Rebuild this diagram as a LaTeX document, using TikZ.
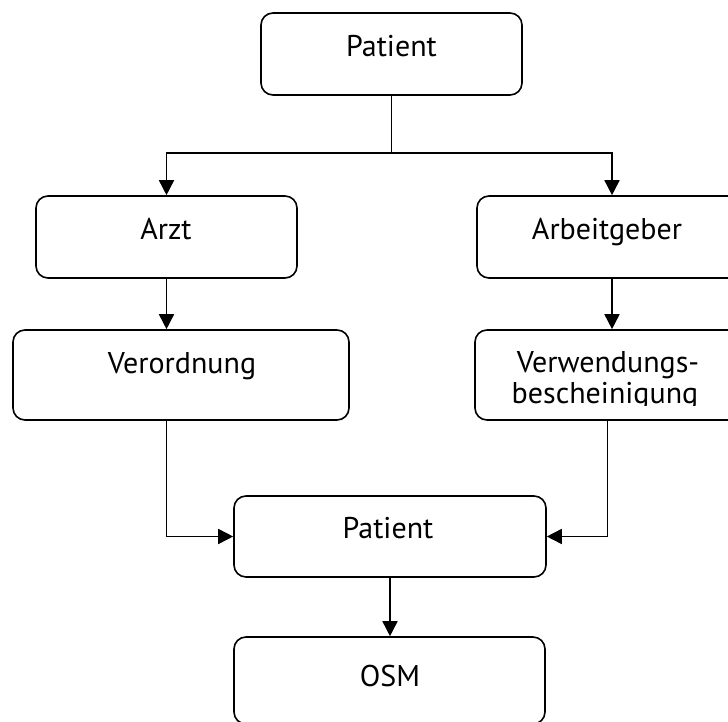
\documentclass[tikz,border=0pt]{standalone}
\usepackage{fontspec}
\setmainfont{PT Sans}
\usetikzlibrary{arrows.meta,calc}
\begin{document}
\begin{tikzpicture}[x=1pt,y=-1pt,
  box/.style={draw,rounded corners=12pt,line width=1.6pt,inner sep=0pt},
  lbl/.style={anchor=base,inner sep=0pt,font=\fontsize{30}{31}\selectfont},
  conn/.style={line width=1.6pt},
  arr/.style={line width=1.6pt,-{Triangle[length=15pt,width=15pt]}}]
\useasboundingbox (0,0) rectangle (728,722);
\clip (0,0) rectangle (728,722);
% boxes
\node[box,minimum width=261pt,minimum height=82pt] (p1) at (391.5,54) {};
\node[box,minimum width=261pt,minimum height=82pt] (arzt) at (166.5,237) {};
\node[box,minimum width=270pt,minimum height=82pt] (arb) at (612,237) {};
\node[box,minimum width=336pt,minimum height=90pt] (verord) at (181,375) {};
\node[box,minimum width=265pt,minimum height=90pt] (verw) at (607.5,375) {};
\node[box,minimum width=312pt,minimum height=81pt] (p2) at (390,536.5) {};
\node[box,minimum width=311pt,minimum height=87pt] (osm) at (389.5,680.5) {};
% texts
\node[lbl] (t1) at (391.5,57) {Patient};
\node[lbl] (t2) at (166,240) {Arzt};
\node[lbl] (t3) at (607,240) {Arbeitgeber};
\node[lbl] (t4) at (182,373) {Verordnung};
\node[lbl] (t5) at (608,372) {Verwendungs-};
\begin{scope}
\clip (470,380) rectangle (728,405.5);
\node[lbl] (t6) at (605,403) {bescheinigung};
\end{scope}
\node[lbl] (t7) at (388,538) {Patient};
\node[lbl] (t8) at (390,686) {OSM};
% connectors
\coordinate (j) at (p1.south |- 0,153);
\draw[conn] (p1.south) -- (j);
\draw[arr] (j) -| (arzt.north);
\draw[arr] (j) -| (arb.north);
\draw[arr] (arzt.south) -- (arzt.south |- verord.north);
\draw[arr] (arb.south) -- (arb.south |- verw.north);
\draw[arr] (arzt.south |- verord.south) |- (p2.west);
\draw[arr] (verw.south) |- (p2.east);
\draw[arr] (p2.south) -- (p2.south |- osm.north);
\end{tikzpicture}
\end{document}
